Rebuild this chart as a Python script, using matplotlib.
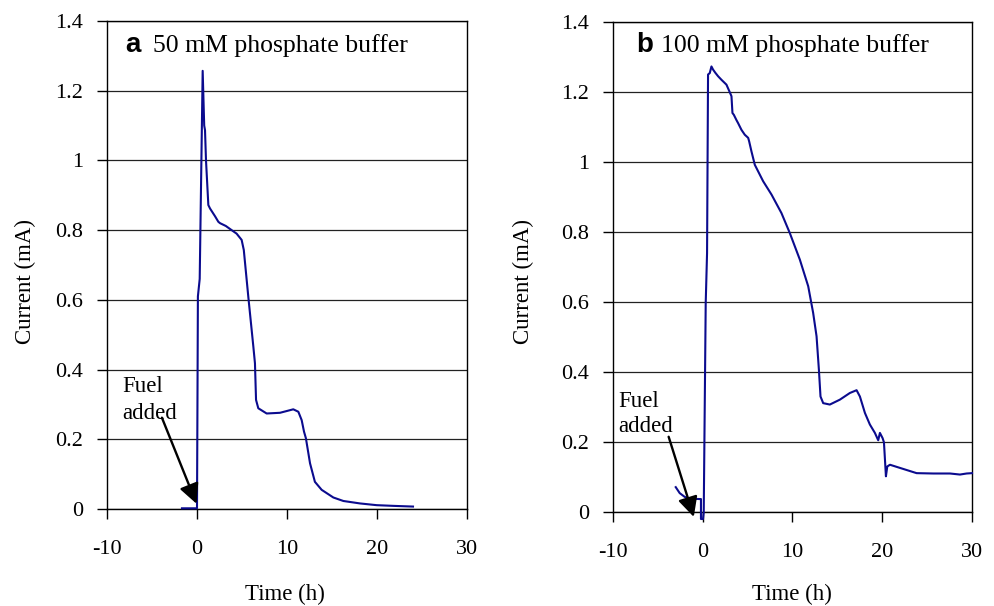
import matplotlib
matplotlib.use('Agg')
import matplotlib.pyplot as plt

plt.rcParams['axes.unicode_minus'] = False
plt.rcParams['font.family'] = ['Liberation Serif', 'DejaVu Serif']

# ---- data ----
t_a = [-1.67, 0.0, 0.05, 0.1, 0.3, 0.63, 0.8, 0.89, 1.0, 1.26, 1.45, 2.0, 2.37, 2.56,
       3.2, 3.85, 4.4, 4.96, 5.2, 5.7, 6.26, 6.44, 6.56, 6.81, 7.74, 9.22, 10.7,
       11.26, 11.63, 11.89, 12.1, 12.56, 13.1, 13.85, 15.15, 16.26, 18.1, 19.96,
       21.8, 24.0]
i_a = [0.002, 0.002, 0.30, 0.61, 0.66, 1.257, 1.10, 1.087, 1.0, 0.872, 0.862, 0.84,
       0.824, 0.82, 0.812, 0.80, 0.79, 0.772, 0.743, 0.609, 0.466, 0.418, 0.313,
       0.289, 0.274, 0.276, 0.286, 0.279, 0.255, 0.222, 0.203, 0.131, 0.078, 0.055,
       0.033, 0.023, 0.016, 0.011, 0.009, 0.007]

t_b = [-3.01, -2.57, -2.0, -1.45, -0.33, -0.2, -0.2, 0.03, 0.11, 0.33, 0.48, 0.59,
       0.78, 0.97, 1.15, 1.4, 1.71, 2.08, 2.64, 3.0, 3.2, 3.31, 3.46, 3.75, 3.94,
       4.31, 4.68, 5.06, 5.17, 5.43, 5.8, 6.73, 7.66, 8.77, 9.7, 10.82, 11.75, 12.3,
       12.68, 12.94, 13.12, 13.42, 14.16, 15.28, 16.39, 17.14, 17.51, 18.07, 18.62,
       19.18, 19.55, 19.74, 20.04, 20.19, 20.41, 20.56, 20.86, 21.97, 23.83, 25.69,
       27.55, 28.66, 29.4, 30.0]
i_b = [0.071, 0.054, 0.043, 0.038, 0.037, 0.037, -0.02, -0.02, 0.0, 0.597, 0.74,
       1.25, 1.254, 1.273, 1.264, 1.255, 1.245, 1.235, 1.221, 1.20, 1.188, 1.14,
       1.135, 1.12, 1.111, 1.092, 1.078, 1.069, 1.059, 1.03, 0.992, 0.945, 0.907,
       0.854, 0.797, 0.721, 0.645, 0.569, 0.502, 0.407, 0.33, 0.311, 0.307, 0.321,
       0.34, 0.348, 0.33, 0.283, 0.25, 0.226, 0.205, 0.226, 0.211, 0.199, 0.102,
       0.13, 0.135, 0.126, 0.111, 0.11, 0.11, 0.107, 0.11, 0.111]

x_ticks = [-10, 0, 10, 20, 30]
x_ticklabels = ['-10', '0', '10', '20', '30']
y_ticks = [0, 0.2, 0.4, 0.6, 0.8, 1.0, 1.2, 1.4]
y_ticklabels = ['0', '0.2', '0.4', '0.6', '0.8', '1', '1.2', '1.4']
panel_letters = ['a', 'b']
panel_titles = ['50 mM phosphate buffer', '100 mM phosphate buffer']
x_label = 'Time (h)'
y_label = 'Current (mA)'
note_lines = ['Fuel', 'added']

W, H = 995, 606
fig = plt.figure(figsize=(W / 100, H / 100), dpi=100)
axa = fig.add_axes([107 / W, (H - 509) / H, 360 / W, 488 / H])
axb = fig.add_axes([613 / W, (H - 512) / H, 359 / W, 490 / H])

line_color = '#0b0b8e'

def style(ax):
    ax.set_xlim(-10, 30)
    ax.set_ylim(0, 1.4)
    ax.set_xticks(x_ticks)
    ax.set_xticklabels(x_ticklabels)
    ax.set_yticks(y_ticks)
    ax.set_yticklabels(y_ticklabels)
    ax.tick_params(axis='both', direction='out', length=7, width=1, color='k',
                   labelsize=16)
    ax.tick_params(axis='x', pad=15)
    ax.tick_params(axis='y', pad=10)
    ax.yaxis.grid(True, color='#222222', linewidth=0.9)
    ax.set_axisbelow(True)
    for s in ax.spines.values():
        s.set_color('k')
        s.set_linewidth(1.0)

for ax in (axa, axb):
    style(ax)

axa.plot(t_a, i_a, color=line_color, lw=1.5, clip_on=False, zorder=3)
axb.plot(t_b, i_b, color=line_color, lw=1.5, clip_on=False, zorder=3)

# panel titles
axa.text(0.052, 0.936, panel_letters[0], transform=axa.transAxes, ha='left',
         va='baseline', fontsize=20, fontweight='bold', family='Liberation Sans')
axa.text(0.128, 0.936, panel_titles[0], transform=axa.transAxes, ha='left',
         va='baseline', fontsize=18.5)
axb.text(0.066, 0.939, panel_letters[1], transform=axb.transAxes, ha='left',
         va='baseline', fontsize=20, fontweight='bold', family='Liberation Sans')
axb.text(0.135, 0.939, panel_titles[1], transform=axb.transAxes, ha='left',
         va='baseline', fontsize=18.5)

# Fuel added annotations
arrow_kw = dict(arrowstyle='-|>,head_length=0.6,head_width=0.3', color='k',
                lw=1.7, shrinkA=0, shrinkB=0, mutation_scale=20)
axa.text(-8.35, 0.335, note_lines[0], ha='left', va='baseline', fontsize=16.5)
axa.text(-8.35, 0.258, note_lines[1], ha='left', va='baseline', fontsize=16.5)
axa.annotate('', xy=(-0.05, 0.015), xytext=(-3.9, 0.262), arrowprops=arrow_kw,
             annotation_clip=False)
axb.text(-9.4, 0.30, note_lines[0], ha='left', va='baseline', fontsize=16.5)
axb.text(-9.4, 0.229, note_lines[1], ha='left', va='baseline', fontsize=16.5)
axb.annotate('', xy=(-1.0, -0.014), xytext=(-3.8, 0.215), arrowprops=arrow_kw,
             annotation_clip=False)

# axis labels
for cx in (285, 792):
    fig.text(cx / W, 1 - 594 / H, x_label, ha='center', va='center', fontsize=16.5)
for cx in (25, 523):
    fig.text(cx / W, 1 - 282 / H, y_label, ha='center', va='center',
             rotation=90, fontsize=16.5)

fig.savefig('out.png', dpi=100)
